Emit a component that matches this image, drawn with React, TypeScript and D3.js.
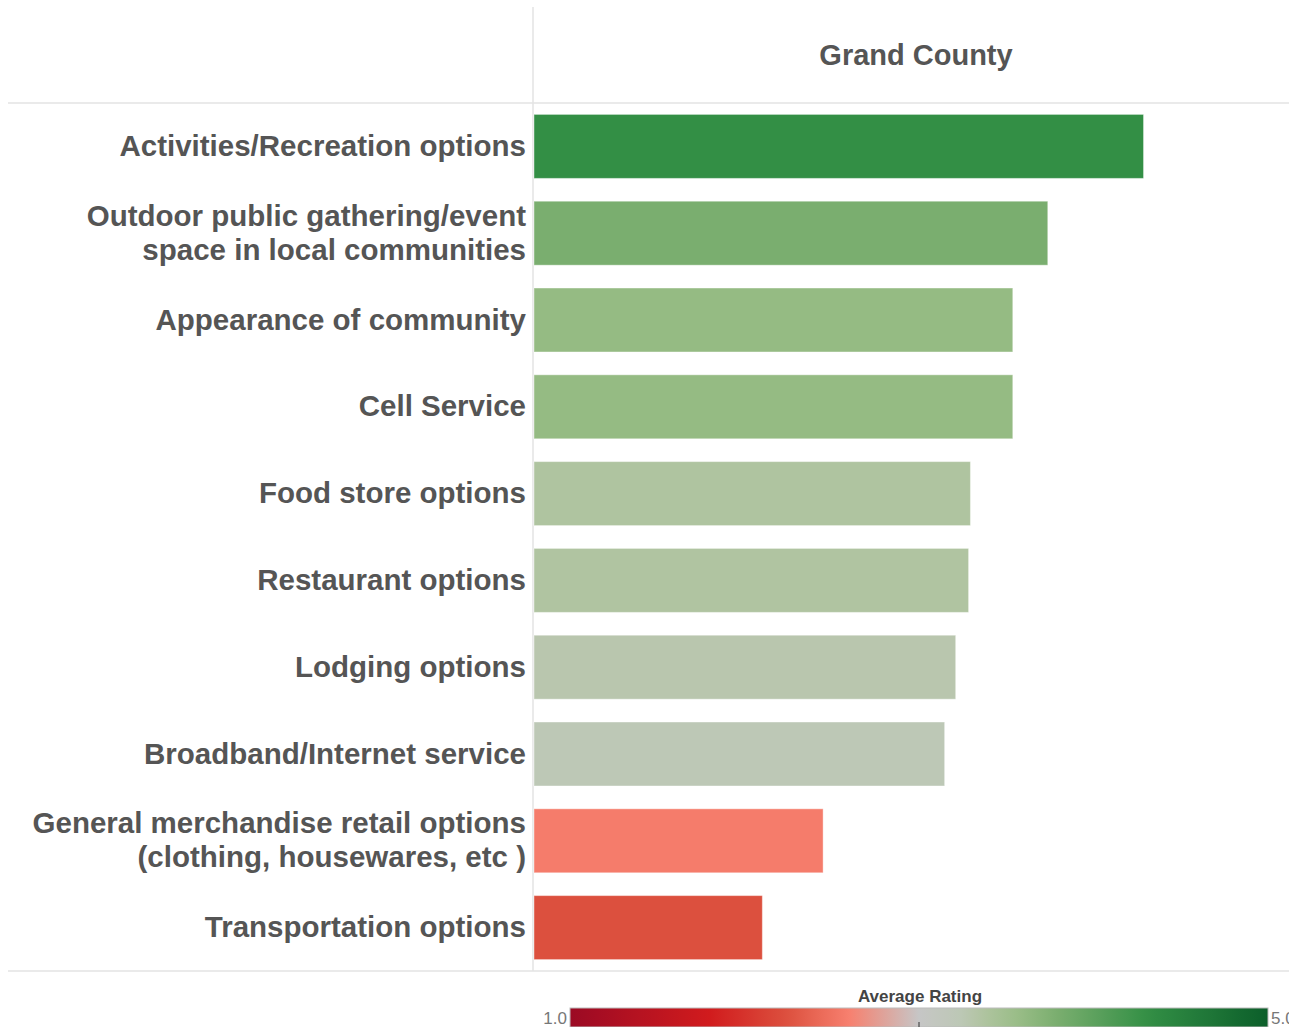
import React from 'react';
import * as d3 from 'd3';

const categories = [
  'Activities/Recreation options',
  'Outdoor public gathering/event\nspace in local communities',
  'Appearance of community',
  'Cell Service',
  'Food store options',
  'Restaurant options',
  'Lodging options',
  'Broadband/Internet service',
  'General merchandise retail options\n(clothing, housewares, etc )',
  'Transportation options',
];

const ratings = [4.31, 3.79, 3.6, 3.6, 3.37, 3.36, 3.29, 3.23, 2.57, 2.24];

const paneTitle = 'Grand County';
const legendTitle = 'Average Rating';
const legendTicks = ['1.0', '5.0'];

// approximation of the red-green diverging palette
const paletteStops = [1.0, 1.8, 2.24, 2.6, 3.0, 3.23, 3.29, 3.36, 3.6, 3.79, 4.31, 5.0];
const paletteColors = [
  '#9b0a24', '#d11b1d', '#dc503e', '#f7806f', '#c6c6c6', '#bdc8b6',
  '#b9c6ae', '#b0c4a1', '#95bb83', '#7aae6f', '#338f45', '#0b5e2a',
];

const W = 1289;
const H = 1027;
const paneLeft = 533;
const rowsTop = 103;
const rowsBottom = 971;
const font = '"Liberation Sans", Arial, sans-serif';

const App: React.FC = () => {
  const x = d3.scaleLinear().domain([1, 5.1]).range([paneLeft + 1, W]);
  const y = d3
    .scaleBand<string>()
    .domain(categories)
    .range([rowsTop, rowsBottom])
    .paddingInner(0.263)
    .paddingOuter(0.1315);
  const color = d3
    .scaleLinear<string>()
    .domain(paletteStops)
    .range(paletteColors)
    .interpolate(d3.interpolateRgb);

  const legendX = d3.scaleLinear().domain([1, 5]).range([570, 1268]);
  const gradStops = d3.range(0, 1.0001, 0.02);

  return (
    <svg
      width={W}
      height={H}
      style={{ position: 'absolute', left: 0, top: 0, display: 'block', background: '#fff' }}
      fontFamily={font}
    >
      <defs>
        <linearGradient id="ratingGrad" x1="0" x2="1" y1="0" y2="0">
          {gradStops.map((t) => (
            <stop key={t} offset={t} stopColor={color(1 + t * 4)} />
          ))}
        </linearGradient>
      </defs>

      {/* grid lines */}
      <line x1={paneLeft} x2={paneLeft} y1={7} y2={rowsBottom} stroke="#e3e3e3" strokeWidth={1.5} />
      <line x1={8} x2={W} y1={rowsTop} y2={rowsTop} stroke="#e3e3e3" strokeWidth={1.5} />
      <line x1={8} x2={W} y1={rowsBottom} y2={rowsBottom} stroke="#e3e3e3" strokeWidth={1.5} />

      <text x={916} y={65} textAnchor="middle" fontSize={29} fontWeight="bold" fill="#555">
        {paneTitle}
      </text>

      {categories.map((c, i) => {
        const y0 = y(c) as number;
        const cy = y0 + y.bandwidth() / 2;
        const lines = c.split('\n');
        return (
          <g key={c}>
            <rect
              x={x(1)}
              y={y0}
              width={x(ratings[i]) - x(1)}
              height={y.bandwidth()}
              fill={color(ratings[i])}
              stroke="#fff"
              strokeOpacity={0.4}
              strokeWidth={1}
            />
            {lines.map((ln, j) => (
              <text
                key={j}
                x={526}
                y={cy + 9.5 + (j - (lines.length - 1) / 2) * 34}
                textAnchor="end"
                fontSize={29.5}
                fontWeight="bold"
                fill="#555"
              >
                {ln}
              </text>
            ))}
          </g>
        );
      })}

      {/* colour legend */}
      <text x={920} y={1002} textAnchor="middle" fontSize={17} fontWeight="bold" fill="#444">
        {legendTitle}
      </text>
      <rect x={legendX(1)} y={1008} width={legendX(5) - legendX(1)} height={19} fill="url(#ratingGrad)" stroke="#bbb" />
      <line x1={legendX(3)} x2={legendX(3)} y1={1022} y2={1027} stroke="#333" />
      <text x={567} y={1024} textAnchor="end" fontSize={17} fill="#777">
        {legendTicks[0]}
      </text>
      <text x={1271} y={1024} textAnchor="start" fontSize={17} fill="#777">
        {legendTicks[1]}
      </text>
    </svg>
  );
};

export default App;
